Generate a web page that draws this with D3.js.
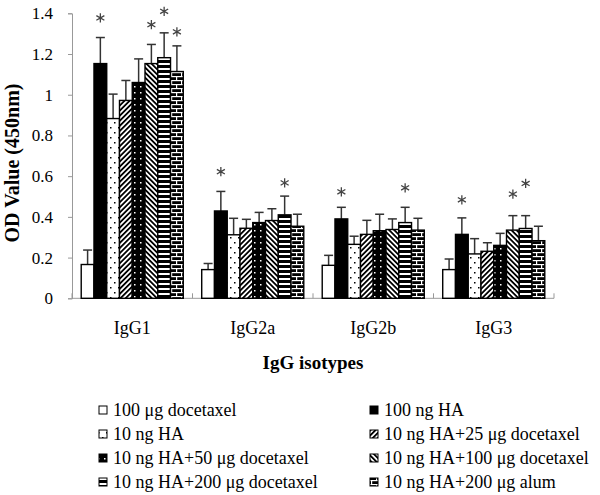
<!DOCTYPE html>
<html><head><meta charset="utf-8">
<script src="https://cdn.jsdelivr.net/npm/d3@7"></script>
<style>
html,body{margin:0;padding:0;background:#fff;}
text{font-family:"Liberation Serif","Times New Roman",serif;fill:#000;}
</style></head>
<body><svg id="c" width="600" height="495"></svg>
<script>
const categories = ["IgG1","IgG2a","IgG2b","IgG3"];
const seriesNames = ["100 μg docetaxel","100 ng HA","10 ng HA","10 ng HA+25 μg docetaxel",
  "10 ng HA+50 μg docetaxel","10 ng HA+100 μg docetaxel","10 ng HA+200 μg docetaxel","10 ng HA+200 μg alum"];
const s1 = [0.166, 0.141, 0.162, 0.141];
const s2 = [1.153, 0.429, 0.390, 0.314];
const s3 = [0.883, 0.312, 0.265, 0.218];
const s4 = [0.972, 0.344, 0.314, 0.231];
const s5 = [1.060, 0.372, 0.332, 0.260];
const s6 = [1.153, 0.382, 0.338, 0.335];
const s7 = [1.182, 0.410, 0.372, 0.343];
const s8 = [1.114, 0.354, 0.335, 0.283];
const e1 = [0.071, 0.030, 0.049, 0.052];
const e2 = [0.128, 0.096, 0.057, 0.081];
const e3 = [0.120, 0.081, 0.040, 0.075];
const e4 = [0.098, 0.044, 0.069, 0.042];
const e5 = [0.116, 0.050, 0.081, 0.059];
const e6 = [0.094, 0.058, 0.052, 0.071];
const e7 = [0.122, 0.092, 0.075, 0.063];
const e8 = [0.126, 0.059, 0.058, 0.071];
// significance marker levels (OD units), null = none
const star1 = [null, null, null, null];
const star2 = [1.377, 0.622, 0.523, 0.484];
const star3 = [null, null, null, null];
const star4 = [null, null, null, null];
const star5 = [null, null, null, null];
const star6 = [1.344, null, null, 0.512];
const star7 = [1.410, 0.567, 0.543, 0.564];
const star8 = [1.309, null, null, null];
const yTicks = [0, 0.2, 0.4, 0.6, 0.8, 1, 1.2, 1.4];

const values = [s1,s2,s3,s4,s5,s6,s7,s8];
const errors = [e1,e2,e3,e4,e5,e6,e7,e8];
const stars = [star1,star2,star3,star4,star5,star6,star7,star8];

const svg = d3.select("#c");
const defs = svg.append("defs");
function pat(id, w, h, bg, rot){
  const p = defs.append("pattern").attr("id", id).attr("patternUnits","userSpaceOnUse")
    .attr("width", w).attr("height", h);
  if (rot) p.attr("patternTransform", "rotate(" + rot + ")");
  p.append("rect").attr("width", w).attr("height", h).attr("fill", bg);
  return p;
}
let p = pat("p3", 8, 10, "#fff");
p.append("rect").attr("x",2).attr("y",2).attr("width",1.5).attr("height",1.5).attr("fill","#000");
p.append("rect").attr("x",6).attr("y",7).attr("width",1.5).attr("height",1.5).attr("fill","#000");
p = pat("p4", 3.6, 3.6, "#fff", 45);
p.append("rect").attr("width",1.8).attr("height",3.6).attr("fill","#000");
p = pat("p5", 6, 6, "#000");
p.append("rect").attr("x",2).attr("y",2).attr("width",1.5).attr("height",1.5).attr("fill","#fff");
p = pat("p6", 3.6, 3.6, "#fff", -45);
p.append("rect").attr("width",1.8).attr("height",3.6).attr("fill","#000");
p = pat("p7", 5, 5, "#fff");
p.append("rect").attr("width",5).attr("height",3).attr("fill","#000");
p = pat("p8", 10, 8, "#000");
p.append("rect").attr("x",0).attr("y",0).attr("width",10).attr("height",1.2).attr("fill","#fff");
p.append("rect").attr("x",0).attr("y",4).attr("width",10).attr("height",1.2).attr("fill","#fff");
p.append("rect").attr("x",1).attr("y",0).attr("width",1.2).attr("height",4).attr("fill","#fff");
p.append("rect").attr("x",6).attr("y",4).attr("width",1.2).attr("height",4).attr("fill","#fff");

const fills = ["#fff","#000","url(#p3)","url(#p4)","url(#p5)","url(#p6)","url(#p7)","url(#p8)"];

const pLeft = 72, pRight = 554, pTop = 13.3, pBottom = 298.3;
const x0 = d3.scaleBand().domain(categories).range([pLeft, pRight]).paddingInner(0.153).paddingOuter(0.0765);
const x1 = d3.scaleBand().domain(d3.range(seriesNames.length)).range([0, x0.bandwidth()]).padding(0);
const y = d3.scaleLinear().domain([0, 1.4]).range([pBottom, pTop]);

const yAxis = svg.append("g").attr("transform", `translate(${pLeft},0)`)
  .call(d3.axisLeft(y).tickValues(yTicks).tickSize(4).tickPadding(15).tickFormat(d => d3.format("")(d)));
yAxis.select(".domain").attr("stroke","#999");
yAxis.selectAll(".tick line").attr("stroke","#999");
yAxis.selectAll(".tick text").attr("font-size", 17).attr("font-family","Liberation Serif").attr("fill","#000");

svg.append("line").attr("x1", pLeft).attr("x2", pRight).attr("y1", pBottom).attr("y2", pBottom).attr("stroke","#999");
const gap = (x0.step() - x0.bandwidth()) / 2;
const bounds = categories.map(c => x0(c) - gap).concat([pRight]);
svg.selectAll(".bt").data(bounds).join("line").attr("x1", d=>d).attr("x2", d=>d)
  .attr("y1", pBottom).attr("y2", pBottom-5).attr("stroke","#999");
svg.selectAll(".cl").data(categories).join("text")
  .attr("x", d => x0(d) + x0.bandwidth()/2).attr("y", 334).attr("text-anchor","middle")
  .attr("font-size", 18).text(d => d);

const starSym = d3.symbol().type(d3.symbolAsterisk).size(60);
const g = svg.append("g");
seriesNames.forEach((name, si) => {
  categories.forEach((cat, ci) => {
    const v = values[si][ci], e = errors[si][ci];
    const bx = x0(cat) + x1(si), bw = x1.bandwidth(), cx = bx + bw/2;
    g.append("line").attr("x1", cx).attr("x2", cx).attr("y1", y(v)).attr("y2", y(v+e))
      .attr("stroke","#333").attr("stroke-width",1.5);
    g.append("line").attr("x1", cx-4.5).attr("x2", cx+4.5).attr("y1", y(v+e)).attr("y2", y(v+e))
      .attr("stroke","#333").attr("stroke-width",1.5);
    g.append("rect").attr("x", bx).attr("y", y(v)).attr("width", bw).attr("height", y(0)-y(v))
      .attr("fill", fills[si]).attr("stroke","#000").attr("stroke-width",1.4);
    const s = stars[si][ci];
    if (s !== null) {
      g.append("path").attr("d", starSym()).attr("transform", `translate(${cx},${y(s)})`)
        .attr("fill","none").attr("stroke","#444").attr("stroke-width",1.3);
    }
  });
});

svg.append("text").attr("x", 313).attr("y", 369).attr("text-anchor","middle")
  .attr("font-size", 19).attr("font-weight","bold").text("IgG isotypes");
svg.append("text").attr("transform","translate(19,163) rotate(-90)").attr("text-anchor","middle")
  .attr("font-size", 20).attr("font-weight","bold").text("OD Value (450nm)");

const lg = svg.append("g");
seriesNames.forEach((name, i) => {
  const col = i % 2, row = Math.floor(i / 2);
  const lx = col === 0 ? 99 : 370, ly = 410 + row * 24;
  lg.append("rect").attr("x", lx).attr("y", ly-4).attr("width", 8).attr("height", 8)
    .attr("fill", fills[i]).attr("stroke","#000").attr("stroke-width",1);
  lg.append("text").attr("x", lx + 14).attr("y", ly + 6).attr("font-size", 18).text(name);
});
</script></body></html>
